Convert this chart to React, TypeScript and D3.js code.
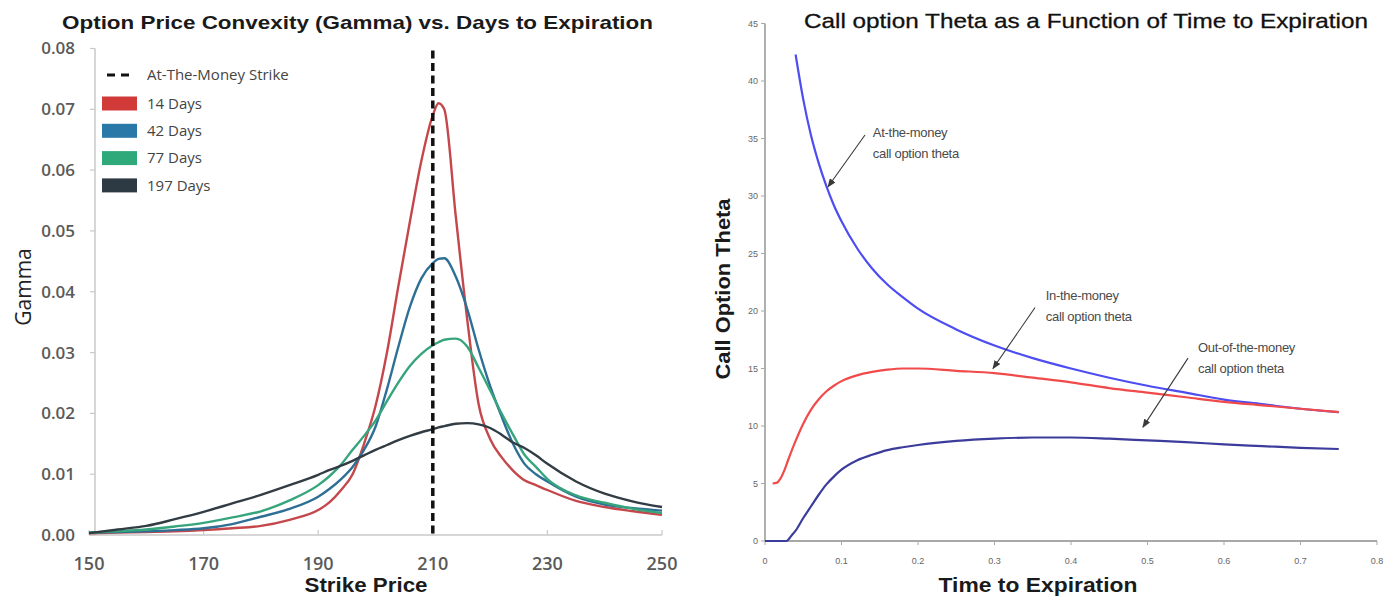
import React from "react";
import * as d3 from "d3";

// ---------- Left chart data (Gamma vs strike) ----------
const strikes = [150, 155, 160, 165, 170, 175, 180, 185, 190, 192, 194, 196, 198, 200, 202, 204, 206, 208, 210, 211, 212, 214, 216, 218, 220, 222, 224, 226, 228, 230, 235, 240, 245, 250];
const gamma14 = [0.0003, 0.0004, 0.0005, 0.0006, 0.0008, 0.0011, 0.0015, 0.0025, 0.0041, 0.0054, 0.0074, 0.0100, 0.0150, 0.0212, 0.0300, 0.0410, 0.0515, 0.0615, 0.0690, 0.0710, 0.0700, 0.0525, 0.0355, 0.0215, 0.0158, 0.0128, 0.0106, 0.0090, 0.0082, 0.0074, 0.0056, 0.0046, 0.0039, 0.0033];
const gamma42 = [0.0004, 0.0005, 0.0006, 0.0008, 0.0011, 0.0018, 0.0030, 0.0043, 0.0063, 0.0076, 0.0092, 0.0112, 0.0140, 0.0178, 0.0240, 0.0310, 0.0375, 0.0422, 0.0447, 0.0454, 0.0455, 0.0425, 0.0372, 0.0305, 0.0245, 0.0195, 0.0150, 0.0117, 0.0100, 0.0088, 0.0063, 0.0050, 0.0044, 0.0040];
const gamma77 = [0.0004, 0.0006, 0.0009, 0.0014, 0.0020, 0.0029, 0.0039, 0.0057, 0.0082, 0.0097, 0.0116, 0.0140, 0.0163, 0.0188, 0.0220, 0.0251, 0.0278, 0.0298, 0.0312, 0.0317, 0.0321, 0.0323, 0.0310, 0.0275, 0.0238, 0.0200, 0.0165, 0.0132, 0.0112, 0.0092, 0.0065, 0.0053, 0.0043, 0.0036];
const gamma197 = [0.0003, 0.0009, 0.0015, 0.0026, 0.0038, 0.0052, 0.0066, 0.0082, 0.0099, 0.0107, 0.0114, 0.0122, 0.0131, 0.0140, 0.0148, 0.0156, 0.0163, 0.0169, 0.0174, 0.0177, 0.0179, 0.0183, 0.0184, 0.0182, 0.0176, 0.0165, 0.0152, 0.0143, 0.0131, 0.0117, 0.0088, 0.0068, 0.0055, 0.0046];
const seriesLabels = ["14 Days", "42 Days", "77 Days", "197 Days"];
const atmLabel = "At-The-Money Strike";
const atmStrike = 210;
const gammaTicks = [0, 0.01, 0.02, 0.03, 0.04, 0.05, 0.06, 0.07, 0.08];
const strikeTicks = [150, 170, 190, 210, 230, 250];

// ---------- Right chart data (Theta vs time) ----------
const atmTime = [0.04, 0.05, 0.06, 0.07, 0.08, 0.09, 0.10, 0.12, 0.14, 0.16, 0.18, 0.20, 0.25, 0.30, 0.35, 0.40, 0.45, 0.50, 0.55, 0.60, 0.65, 0.70, 0.75];
const atmTheta = [42.3, 38.4, 35.3, 32.9, 30.9, 29.2, 27.8, 25.5, 23.7, 22.3, 21.2, 20.2, 18.4, 17.0, 15.9, 15.0, 14.2, 13.5, 12.9, 12.3, 11.9, 11.5, 11.2];
const itmTime = [0.01, 0.015, 0.02, 0.025, 0.03, 0.04, 0.05, 0.06, 0.07, 0.08, 0.09, 0.10, 0.12, 0.14, 0.16, 0.18, 0.20, 0.25, 0.30, 0.35, 0.40, 0.45, 0.50, 0.55, 0.60, 0.65, 0.70, 0.75];
const itmTheta = [5.0, 5.05, 5.4, 6.1, 7.0, 8.7, 10.2, 11.4, 12.3, 13.0, 13.5, 13.9, 14.4, 14.7, 14.9, 15.0, 15.0, 14.8, 14.6, 14.2, 13.8, 13.3, 12.9, 12.5, 12.1, 11.8, 11.5, 11.2];
const otmTime = [0.0, 0.02, 0.028, 0.035, 0.04, 0.05, 0.06, 0.07, 0.08, 0.09, 0.10, 0.12, 0.14, 0.16, 0.18, 0.20, 0.25, 0.30, 0.35, 0.40, 0.45, 0.50, 0.55, 0.60, 0.65, 0.70, 0.75];
const otmTheta = [0, 0, 0, 0.5, 0.9, 2.0, 3.0, 4.0, 4.9, 5.6, 6.2, 7.0, 7.5, 7.9, 8.15, 8.35, 8.7, 8.9, 9.0, 9.0, 8.9, 8.75, 8.6, 8.4, 8.25, 8.1, 8.0];
const timeTicks = [0, 0.1, 0.2, 0.3, 0.4, 0.5, 0.6, 0.7, 0.8];
const thetaTicks = [0, 5, 10, 15, 20, 25, 30, 35, 40, 45];
const annotationLines = [
  ["At-the-money", "call option theta"],
  ["In-the-money", "call option theta"],
  ["Out-of-the-money", "call option theta"],
];

// ---------- styles / layout ----------
const gammaColors = ["#c4474c", "#2e6f95", "#36a57c", "#323c44"];
const legendColors = ["#d23a3a", "#2a78a8", "#2fa979", "#2d3943"];
const annotationLayout = [
  { tx: 0.141, ty: 35.1, fx: 0.1307, fy: 35.3, ax: 0.0824, ay: 30.8 },
  { tx: 0.367, ty: 21.0, fx: 0.353, fy: 20.3, ax: 0.298, ay: 15.0 },
  { tx: 0.566, ty: 16.4, fx: 0.553, fy: 15.9, ax: 0.494, ay: 9.9 },
];

const W = 1385;
const H = 598;

export default function App() {
  const xL = d3.scaleLinear().domain([150, 250]).range([89, 662]);
  const yL = d3.scaleLinear().domain([0, 0.08]).range([535, 48.5]);
  const xR = d3.scaleLinear().domain([0, 0.8]).range([765, 1377]);
  const yR = d3.scaleLinear().domain([0, 45]).range([541, 23.5]);

  const lineL = d3
    .line<[number, number]>()
    .x((d) => xL(d[0]))
    .y((d) => yL(d[1]))
    .curve(d3.curveMonotoneX);
  const lineR = d3
    .line<[number, number]>()
    .x((d) => xR(d[0]))
    .y((d) => yR(d[1]))
    .curve(d3.curveMonotoneX);

  const gammaSeries = [gamma14, gamma42, gamma77, gamma197];
  const fmt = d3.format(".2f");
  const sans = "'Open Sans', 'DejaVu Sans', sans-serif";
  const arial = "'Liberation Sans', Arial, sans-serif";

  const thetaSeries = [
    { t: otmTime, v: otmTheta, color: "#3c3c9c" },
    { t: atmTime, v: atmTheta, color: "#4d4df2" },
    { t: itmTime, v: itmTheta, color: "#f04a4a" },
  ];

  return (
    <svg
      width={W}
      height={H}
      style={{ position: "absolute", left: 0, top: 0, background: "#fff" }}
    >
      <defs>
        <marker
          id="arrow"
          viewBox="0 0 10 8"
          refX="9"
          refY="4"
          markerWidth="9"
          markerHeight="7"
          markerUnits="userSpaceOnUse"
          orient="auto"
        >
          <path d="M0,0 L10,4 L0,8 z" fill="#3a3a3a" />
        </marker>
      </defs>
      <rect width={W} height={H} fill="#fff" />

      {/* ================= LEFT CHART ================= */}
      <text
        x={357.5}
        y={29}
        textAnchor="middle"
        fontFamily={arial}
        fontWeight="bold"
        fontSize={19}
        fill="#1a1a1a"
        textLength={591}
        lengthAdjust="spacingAndGlyphs"
      >
        Option Price Convexity (Gamma) vs. Days to Expiration
      </text>

      {/* axes */}
      <line x1={95} x2={95} y1={yL(0.08)} y2={yL(0)} stroke="#c9c9c9" strokeWidth={1.5} />
      <line x1={xL(150)} x2={xL(250)} y1={yL(0)} y2={yL(0)} stroke="#c9c9c9" strokeWidth={1.5} />
      {gammaTicks.map((t) => (
        <g key={"gy" + t}>
          <line x1={90} x2={95} y1={yL(t)} y2={yL(t)} stroke="#c9c9c9" strokeWidth={1.2} />
          <text
            x={75}
            y={yL(t)}
            dy="0.35em"
            textAnchor="end"
            fontFamily={sans}
            fontWeight={600}
            fontSize={17}
            fill="#5a5a5a"
          >
            {fmt(t)}
          </text>
        </g>
      ))}
      {strikeTicks.map((s) => (
        <g key={"gx" + s}>
          <line x1={xL(s)} x2={xL(s)} y1={yL(0)} y2={yL(0) - 5} stroke="#c9c9c9" strokeWidth={1.2} />
          <text
            x={xL(s)}
            y={570}
            textAnchor="middle"
            fontFamily={sans}
            fontWeight={600}
            fontSize={18}
            fill="#5a5a5a"
          >
            {s}
          </text>
        </g>
      ))}
      <text
        transform={`translate(31,287) rotate(-90)`}
        textAnchor="middle"
        fontFamily={sans}
        fontSize={21}
        fill="#222"
      >
        Gamma
      </text>
      <text
        x={366}
        y={592}
        textAnchor="middle"
        fontFamily={arial}
        fontWeight="bold"
        fontSize={20}
        fill="#1a1a1a"
        textLength={123}
        lengthAdjust="spacingAndGlyphs"
      >
        Strike Price
      </text>

      {/* curves */}
      {gammaSeries.map((vals, i) => (
        <path
          key={"gl" + i}
          d={lineL(strikes.map((s, j) => [s, vals[j]] as [number, number])) || ""}
          fill="none"
          stroke={gammaColors[i]}
          strokeWidth={2.4}
          strokeLinejoin="round"
        />
      ))}

      {/* at-the-money strike */}
      <line
        x1={xL(atmStrike)}
        x2={xL(atmStrike)}
        y1={yL(0.08) + 2}
        y2={yL(0)}
        stroke="#111"
        strokeWidth={3.5}
        strokeDasharray="8,4.5"
      />

      {/* legend */}
      <line x1={107} x2={134} y1={75} y2={75} stroke="#111" strokeWidth={3} strokeDasharray="8,6" />
      <text x={147} y={75} dy="0.35em" fontFamily={sans} fontSize={15} fill="#444">
        {atmLabel}
      </text>
      {seriesLabels.map((lab, i) => (
        <g key={"lg" + i}>
          <rect x={102} y={96.5 + i * 27.3} width={35} height={14} fill={legendColors[i]} />
          <text x={147} y={103.5 + i * 27.3} dy="0.35em" fontFamily={sans} fontSize={15} fill="#444">
            {lab}
          </text>
        </g>
      ))}

      {/* ================= RIGHT CHART ================= */}
      <text
        x={1086}
        y={28}
        textAnchor="middle"
        fontFamily={arial}
        fontSize={21}
        fill="#111"
        stroke="#111"
        strokeWidth={0.3}
        textLength={564}
        lengthAdjust="spacingAndGlyphs"
      >
        Call option Theta as a Function of Time to Expiration
      </text>

      <line x1={xR(0)} x2={xR(0)} y1={yR(45)} y2={yR(0)} stroke="#a8a8a8" strokeWidth={1.8} />
      <line x1={xR(0)} x2={xR(0.8)} y1={yR(0)} y2={yR(0)} stroke="#a8a8a8" strokeWidth={1.8} />
      {thetaTicks.map((t) => (
        <g key={"ty" + t}>
          <line x1={xR(0) - 4} x2={xR(0)} y1={yR(t)} y2={yR(t)} stroke="#a8a8a8" strokeWidth={1} />
          <text
            x={xR(0) - 7}
            y={yR(t)}
            dy="0.35em"
            textAnchor="end"
            fontFamily={arial}
            fontSize={9}
            fill="#666"
          >
            {t}
          </text>
        </g>
      ))}
      {timeTicks.map((t) => (
        <g key={"tx" + t}>
          <line x1={xR(t)} x2={xR(t)} y1={yR(0)} y2={yR(0) + 4} stroke="#a8a8a8" strokeWidth={1} />
          <text
            x={xR(t)}
            y={564}
            textAnchor="middle"
            fontFamily={arial}
            fontSize={9}
            fill="#666"
          >
            {t}
          </text>
        </g>
      ))}
      <text
        transform={`translate(730,289) rotate(-90)`}
        textAnchor="middle"
        fontFamily={arial}
        fontWeight="bold"
        fontSize={21}
        fill="#1a1a1a"
        textLength={181}
        lengthAdjust="spacingAndGlyphs"
      >
        Call Option Theta
      </text>
      <text
        x={1038}
        y={592}
        textAnchor="middle"
        fontFamily={arial}
        fontWeight="bold"
        fontSize={20}
        fill="#1a1a1a"
        textLength={199}
        lengthAdjust="spacingAndGlyphs"
      >
        Time to Expiration
      </text>

      {thetaSeries.map((s, i) => (
        <path
          key={"tl" + i}
          d={lineR(s.t.map((t, j) => [t, s.v[j]] as [number, number])) || ""}
          fill="none"
          stroke={s.color}
          strokeWidth={2.2}
          strokeLinejoin="round"
        />
      ))}

      {annotationLines.map((lines, i) => {
        const a = annotationLayout[i];
        return (
          <g key={"an" + i}>
            <line
              x1={xR(a.fx)}
              y1={yR(a.fy)}
              x2={xR(a.ax)}
              y2={yR(a.ay)}
              stroke="#3a3a3a"
              strokeWidth={1.1}
              markerEnd="url(#arrow)"
            />
            {lines.map((ln, k) => (
              <text
                key={k}
                x={xR(a.tx)}
                y={yR(a.ty) + k * 21}
                fontFamily={arial}
                fontSize={13}
                fill="#4a4a4a"
                letterSpacing={-0.3}
              >
                {ln}
              </text>
            ))}
          </g>
        );
      })}
    </svg>
  );
}
